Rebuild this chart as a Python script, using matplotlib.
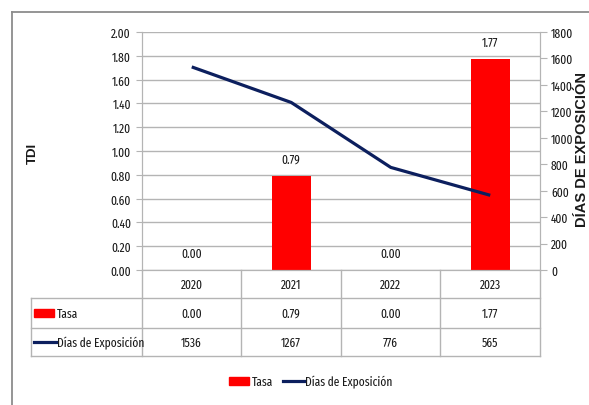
import matplotlib
matplotlib.use("Agg")
import matplotlib.pyplot as plt
from matplotlib.patches import Rectangle
from matplotlib.lines import Line2D

plt.rcParams['font.family'] = ['Fira Sans Extra Condensed', 'Roboto Condensed', 'DejaVu Sans']

years = ["2020", "2021", "2022", "2023"]
tasa = [0.00, 0.79, 0.00, 1.77]
dias = [1536, 1267, 776, 565]
tasa_ticks = [0.0, 0.2, 0.4, 0.6, 0.8, 1.0, 1.2, 1.4, 1.6, 1.8, 2.0]
dias_ticks = [0, 200, 400, 600, 800, 1000, 1200, 1400, 1600, 1800]

W, H = 589, 406
RED = "#ff0000"
NAVY = "#0c1f5e"
GRID = "#b4b4b4"
TXT = "#1a1a1a"
FS = 9

fig = plt.figure(figsize=(W / 100, H / 100), dpi=100)


def fx(x):
    return x / W


def fy(y):
    return 1 - y / H


# outer frame
fig.add_artist(Line2D([fx(12), fx(12)], [fy(13), fy(410)], color="#8c8c8c", lw=1.3))
fig.add_artist(Line2D([fx(12), fx(600)], [fy(13), fy(13)], color="#8c8c8c", lw=1.3))

# plot area
x0, x1, ytop, ybot = 142, 540, 33, 271
ax = fig.add_axes([fx(x0), fy(ybot), (x1 - x0) / W, (ybot - ytop) / H])
ax2 = ax.twinx()

n = len(years)
xs = list(range(n))
ax.set_xlim(-0.5, n - 0.5)
ax.set_ylim(0, 2.0)
ax2.set_ylim(0, 1800)

ax.bar(xs, tasa, width=0.39, color=RED, zorder=2)
for x, v in zip(xs, tasa):
    ax.annotate(f"{v:.2f}", (x, v), xytext=(0, 12), textcoords="offset points",
                ha="center", va="center", fontsize=FS, color=TXT)

ax2.plot(xs, dias, color=NAVY, lw=2.3, zorder=3, solid_capstyle="butt")

ax.set_yticks(tasa_ticks)
ax.set_yticklabels([f"{t:.2f}" for t in tasa_ticks], fontsize=FS, color=TXT)
ax.yaxis.grid(True, color=GRID, lw=1.0)
ax.set_axisbelow(True)
ax.set_xticks([])
ax.tick_params(axis="y", length=4, color=GRID, pad=4)

ax2.set_yticks(dias_ticks)
ax2.set_yticklabels([str(t) for t in dias_ticks], fontsize=FS, color=TXT)
ax2.tick_params(axis="y", length=5, color=GRID, pad=3)

for a in (ax, ax2):
    a.spines["top"].set_visible(False)
    a.spines["left"].set_color(GRID)
    a.spines["right"].set_color(GRID)
    a.spines["bottom"].set_color(GRID)
    a.patch.set_visible(False)

fig.text(fx(33), fy(153), "TDI", rotation=90, fontsize=9.5, fontweight="bold",
         ha="center", va="center", color=TXT, family=["Liberation Sans", "DejaVu Sans"])
fig.text(fx(582), fy(150), "DÍAS DE EXPOSICIÓN", rotation=90, fontsize=10.5,
         fontweight="bold", ha="center", va="center", color=TXT,
         family=["Liberation Sans", "DejaVu Sans"])

# data table under the axes
cols = [142, 241, 341, 440, 540]
rows = [271, 299, 329, 357]
tleft = 31
for c in cols:
    fig.add_artist(Line2D([fx(c), fx(c)], [fy(rows[0]), fy(rows[-1])], color=GRID, lw=1.0))
fig.add_artist(Line2D([fx(tleft), fx(tleft)], [fy(rows[1]), fy(rows[-1])], color=GRID, lw=1.0))
for r in rows[1:]:
    fig.add_artist(Line2D([fx(tleft), fx(cols[-1])], [fy(r), fy(r)], color=GRID, lw=1.0))

centers = [(cols[i] + cols[i + 1]) / 2 for i in range(n)]
mids = [(rows[i] + rows[i + 1]) / 2 for i in range(3)]
for i in range(n):
    fig.text(fx(centers[i]), fy(mids[0]), years[i], ha="center", va="center", fontsize=FS, color=TXT)
    fig.text(fx(centers[i]), fy(mids[1]), f"{tasa[i]:.2f}", ha="center", va="center", fontsize=FS, color=TXT)
    fig.text(fx(centers[i]), fy(mids[2]), f"{dias[i]}", ha="center", va="center", fontsize=FS, color=TXT)

# row keys
fig.add_artist(Rectangle((fx(34), fy(mids[1] + 4)), 20 / W, 8 / H, color=RED))
fig.text(fx(57), fy(mids[1]), "Tasa", ha="left", va="center", fontsize=FS, color=TXT)
fig.add_artist(Line2D([fx(34), fx(56)], [fy(mids[2]), fy(mids[2])], color=NAVY, lw=2.3))
fig.text(fx(57), fy(mids[2]), "Días de Exposición", ha="left", va="center", fontsize=FS, color=TXT)

# bottom legend
ly = 382
fig.add_artist(Rectangle((fx(229), fy(ly + 4)), 20 / W, 8 / H, color=RED))
fig.text(fx(252), fy(ly), "Tasa", ha="left", va="center", fontsize=FS, color=TXT)
fig.add_artist(Line2D([fx(283), fx(304)], [fy(ly), fy(ly)], color=NAVY, lw=2.3))
fig.text(fx(305), fy(ly), "Días de Exposición", ha="left", va="center", fontsize=FS, color=TXT)

fig.savefig("out.png", dpi=100, facecolor="white")
